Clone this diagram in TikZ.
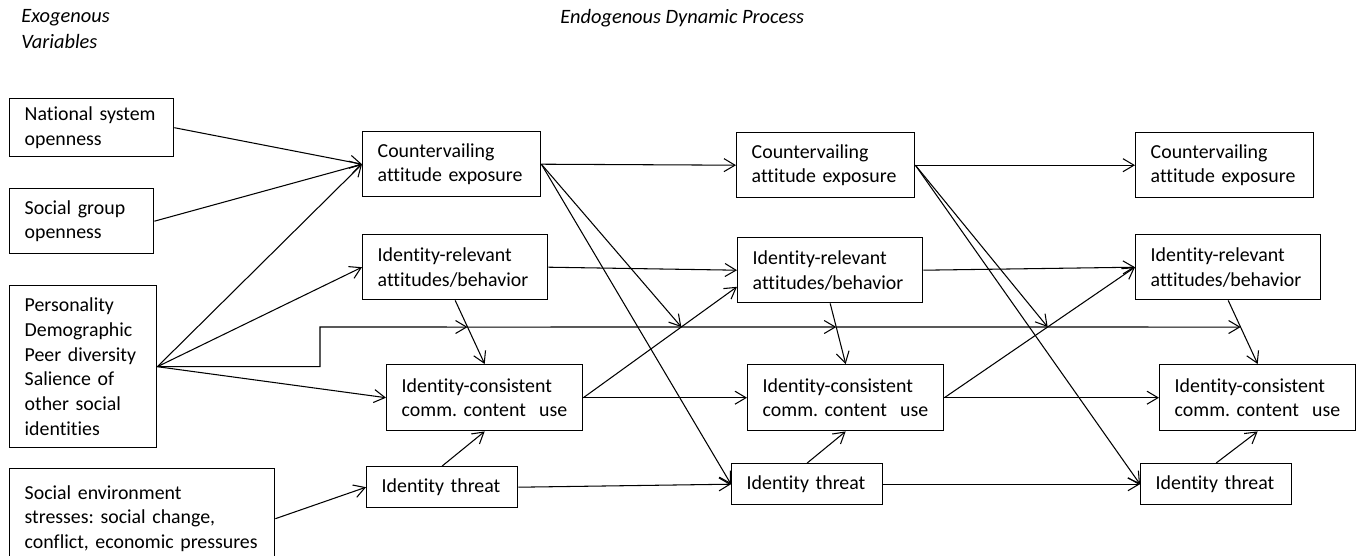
\documentclass[tikz,border=0pt]{standalone}
\usepackage{fontspec}
\setmainfont{Carlito}[Ligatures=NoCommon]
\usetikzlibrary{arrows.meta,calc}
\frenchspacing

\begin{document}
\begin{tikzpicture}[x=0.02cm, y=-0.02cm]
    % --- Canvas (1 unit = 1 px of the 1360 x 555 layout) ---
    \def\CanvasW{1360}
    \def\CanvasH{555}
    \def\BypassY{327}     % Y-position of the long bypass line

    % --- Styles ---
    \tikzset{
        box/.style={
            draw,
            line width=0.8pt,
            anchor=north west,
            align=left,
            inner xsep=0.3cm,
            inner ysep=0pt,
            font=\fontsize{11.3}{14.2}\selectfont
        },
        nat box/.style={box, text width=2.68cm, minimum height=1.16cm},
        soc box/.style={box, text width=2.28cm, minimum height=1.30cm},
        pers box/.style={box, text width=2.34cm, minimum height=3.24cm},
        env box/.style={box, text width=4.70cm, minimum height=2.00cm},
        cae box/.style={box, text width=2.96cm, minimum height=1.30cm},
        ira box/.style={box, text width=3.10cm, minimum height=1.30cm},
        icc box/.style={box, text width=3.32cm, minimum height=1.32cm},
        it box/.style={box, text width=2.42cm, minimum height=0.82cm},
        title text/.style={
            anchor=north west,
            inner sep=0pt,
            align=left,
            font=\fontsize{11.6}{14.8}\selectfont\itshape
        },
        path arrow/.style={
            line width=0.6pt,
            -{Straight Barb[length=2.2mm, width=2.6mm]}
        }
    }

    \useasboundingbox (0,0) rectangle (\CanvasW,\CanvasH);
    \clip (0,0) rectangle (\CanvasW,\CanvasH);

    % =========================================================
    % 1. HEADINGS
    % =========================================================
    \node[title text] (exotitle) at (21,9) {Exogenous\\Variables};
    \node[title text] (endotitle) at (560,9) {Endogenous Dynamic Process};

    % =========================================================
    % 2. EXOGENOUS VARIABLES
    % =========================================================
    \node[nat box]  (nat)  at (9,98)  {National system\\openness};
    \node[soc box]  (soc)  at (9,188) {Social group\\openness};
    \node[pers box] (pers) at (9,285) {Personality\\Demographic\\Peer diversity\\Salience of\\other social\\identities};
    \node[env box]  (env)  at (9,468) {Social environment\\stresses: social change,\\conflict, economic pressures};

    % =========================================================
    % 3. ENDOGENOUS PROCESS (three waves)
    % =========================================================
    % Wave 1
    \node[cae box] (cae1) at (362,131) {Countervailing\\attitude exposure};
    \node[ira box] (ira1) at (362,234) {Identity-relevant\\attitudes/behavior};
    \node[icc box] (icc1) at (386,364) {Identity-consistent\\comm.~content~~use};
    \node[it box]  (it1)  at (366,466) {Identity threat};

    % Wave 2
    \node[cae box] (cae2) at (736,132) {Countervailing\\attitude exposure};
    \node[ira box] (ira2) at (737,237) {Identity-relevant\\attitudes/behavior};
    \node[icc box] (icc2) at (747,364) {Identity-consistent\\comm.~content~~use};
    \node[it box]  (it2)  at (731,463) {Identity threat};

    % Wave 3
    \node[cae box] (cae3) at (1135,132) {Countervailing\\attitude exposure};
    \node[ira box] (ira3) at (1135,234) {Identity-relevant\\attitudes/behavior};
    \node[icc box] (icc3) at (1159,364) {Identity-consistent\\comm.~content~~use};
    \node[it box]  (it3)  at (1140,463) {Identity threat};

    % =========================================================
    % 4. HELPER POINTS (where arrows hit other paths)
    % =========================================================
    \coordinate (bend)  at (320,\BypassY);
    \coordinate (bendR) at (\CanvasW,\BypassY);
    \coordinate (ira2low) at ($(ira2.west)!0.5!(ira2.south west)$);

    \coordinate (m1) at (intersection of ira1.south--icc1.north and bend--bendR);
    \coordinate (m2) at (intersection of ira2.south--icc2.north and bend--bendR);
    \coordinate (m3) at (intersection of ira3.south--icc3.north and bend--bendR);
    \coordinate (x1) at (intersection of icc1.east--ira2low and bend--bendR);
    \coordinate (x2) at (intersection of icc2.east--ira3.west and bend--bendR);

    % =========================================================
    % 5. CONNECTORS
    % =========================================================
    % Exogenous inputs
    \draw[path arrow] (nat.east)  -- (cae1.west);
    \draw[path arrow] (soc.east)  -- (cae1.west);
    \draw[path arrow] (pers.east) -- (cae1.west);
    \draw[path arrow] (pers.east) -- (ira1.west);
    \draw[path arrow] (pers.east) -- (icc1.west);
    \draw[path arrow] (env.east)  -- (it1.west);

    % Long bypass line from Personality (arrowheads on the paths it crosses)
    \draw[path arrow] (pers.east) -| (bend) -- (m1);
    \draw[path arrow] (m1) -- (m2);
    \draw[path arrow] (m2) -- (m3);

    % Wave 1 -> Wave 2
    \draw[path arrow] (cae1.east) -- (cae2.west);
    \draw[path arrow] (cae1.east) -- (x1);
    \draw[path arrow] (cae1.east) -- (it2.west);
    \draw[path arrow] (ira1.east) -- (ira2.west);
    \draw[path arrow] (ira1.south) -- (icc1.north);
    \draw[path arrow] (icc1.east) -- (ira2low);
    \draw[path arrow] (icc1.east) -- (icc2.west);
    \draw[path arrow] (it1.north) -- (icc1.south);
    \draw[path arrow] (it1.east) -- (it2.west);

    % Wave 2 -> Wave 3
    \draw[path arrow] (cae2.east) -- (cae3.west);
    \draw[path arrow] (cae2.east) -- (x2);
    \draw[path arrow] (cae2.east) -- (it3.west);
    \draw[path arrow] (ira2.east) -- (ira3.west);
    \draw[path arrow] (ira2.south) -- (icc2.north);
    \draw[path arrow] (icc2.east) -- (ira3.west);
    \draw[path arrow] (icc2.east) -- (icc3.west);
    \draw[path arrow] (it2.north) -- (icc2.south);
    \draw[path arrow] (it2.east) -- (it3.west);

    % Wave 3 within
    \draw[path arrow] (ira3.south) -- (icc3.north);
    \draw[path arrow] (it3.north) -- (icc3.south);

\end{tikzpicture}
\end{document}
